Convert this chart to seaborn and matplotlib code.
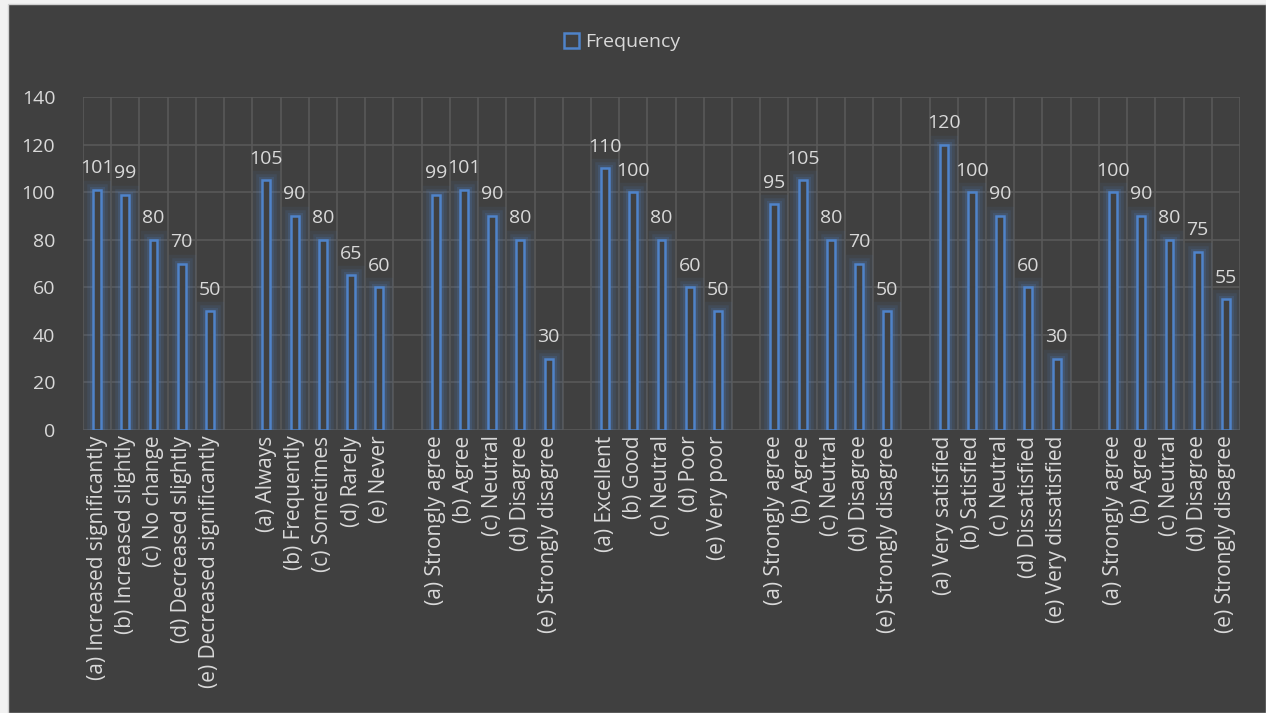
import numpy as np
import pandas as pd
import matplotlib
matplotlib.use('Agg')
import matplotlib.pyplot as plt
import matplotlib.patheffects as pe
from matplotlib.patches import Patch, Rectangle
import seaborn as sns

# survey answer frequencies, one list per question
q1_labels = ['(a) Increased significantly', '(b) Increased slightly', '(c) No change',
             '(d) Decreased slightly', '(e) Decreased significantly']
q1_values = [101, 99, 80, 70, 50]
q2_labels = ['(a) Always', '(b) Frequently', '(c) Sometimes', '(d) Rarely', '(e) Never']
q2_values = [105, 90, 80, 65, 60]
q3_labels = ['(a) Strongly agree', '(b) Agree', '(c) Neutral', '(d) Disagree', '(e) Strongly disagree']
q3_values = [99, 101, 90, 80, 30]
q4_labels = ['(a) Excellent', '(b) Good', '(c) Neutral', '(d) Poor', '(e) Very poor']
q4_values = [110, 100, 80, 60, 50]
q5_labels = ['(a) Strongly agree', '(b) Agree', '(c) Neutral', '(d) Disagree', '(e) Strongly disagree']
q5_values = [95, 105, 80, 70, 50]
q6_labels = ['(a) Very satisfied', '(b) Satisfied', '(c) Neutral', '(d) Dissatisfied', '(e) Very dissatisfied']
q6_values = [120, 100, 90, 60, 30]
q7_labels = ['(a) Strongly agree', '(b) Agree', '(c) Neutral', '(d) Disagree', '(e) Strongly disagree']
q7_values = [100, 90, 80, 75, 55]

groups = [(q1_labels, q1_values), (q2_labels, q2_values), (q3_labels, q3_values),
          (q4_labels, q4_values), (q5_labels, q5_values), (q6_labels, q6_values),
          (q7_labels, q7_values)]

# flatten with an empty slot between questions
labels = []
values = []
for i, (lab, val) in enumerate(groups):
    if i > 0:
        labels.append('')
        values.append(np.nan)
    labels += lab
    values += val
df = pd.DataFrame({'slot': [str(i) for i in range(len(labels))], 'label': labels, 'Frequency': values})

BG = '#404040'
GRID = '#595959'
TXT = '#d9d9d9'
BLUE = '#4f83c9'

sns.set_style('dark')
plt.rcParams['font.family'] = ['Open Sans', 'DejaVu Sans']

fig = plt.figure(figsize=(12.66, 7.13), dpi=100)
fig.patch.set_facecolor('#f2f2f2')
fig.patches.append(Rectangle((8 / 1266, 0), 1 - 8 / 1266, 1 - 4 / 713, transform=fig.transFigure,
                             facecolor=BG, edgecolor='#d0d0d0', lw=1, zorder=-1))
ax = fig.add_axes([83 / 1266, 1 - 430 / 713, (1240 - 83) / 1266, (430 - 97) / 713])
ax.set_facecolor(BG)

sns.barplot(data=df, x='slot', y='Frequency', order=list(df['slot']), ax=ax,
            width=0.28, color=BG, edgecolor=BLUE, linewidth=1.8, errorbar=None, zorder=3)

# soft blue glow around the bars
for p in ax.patches:
    p.set_path_effects([pe.Stroke(linewidth=14, foreground=BLUE, alpha=0.08),
                        pe.Stroke(linewidth=9, foreground=BLUE, alpha=0.12),
                        pe.Stroke(linewidth=5, foreground=BLUE, alpha=0.18),
                        pe.Normal()])

for cont in ax.containers:
    labs = ['' if np.isnan(v) else '%d' % v for v in cont.datavalues]
    ax.bar_label(cont, labels=labs, padding=9, color=TXT, fontsize=14)

n = len(labels)
ax.set_xlim(-0.5, n - 0.5)
ax.set_ylim(0, 140)
ax.set_yticks(np.arange(0, 141, 20))
ax.set_xticks(range(n))
ax.set_xticklabels(labels, rotation=90, color=TXT, fontsize=15)
ax.tick_params(axis='y', colors=TXT, labelsize=14, length=0, pad=20)
ax.tick_params(axis='x', length=0, pad=4)
ax.set_xlabel('')
ax.set_ylabel('')

# gridlines: horizontal at ticks, vertical between categories
for y in range(0, 141, 20):
    ax.axhline(y, color=GRID, lw=1.2, zorder=1)
for x in np.arange(-0.5, n, 1):
    ax.axvline(x, color=GRID, lw=1.2, zorder=1)
ax.grid(False)
for s in ax.spines.values():
    s.set_visible(False)

handle = Patch(facecolor=BG, edgecolor=BLUE, linewidth=1.8, label='Frequency')
fig.legend(handles=[handle], loc='center', bbox_to_anchor=(622 / 1266, 1 - 42 / 713),
           frameon=False, fontsize=14, labelcolor=TXT, handlelength=0.8, handleheight=0.8,
           handletextpad=0.3)

fig.savefig('out.png', dpi=100, facecolor=fig.get_facecolor())
